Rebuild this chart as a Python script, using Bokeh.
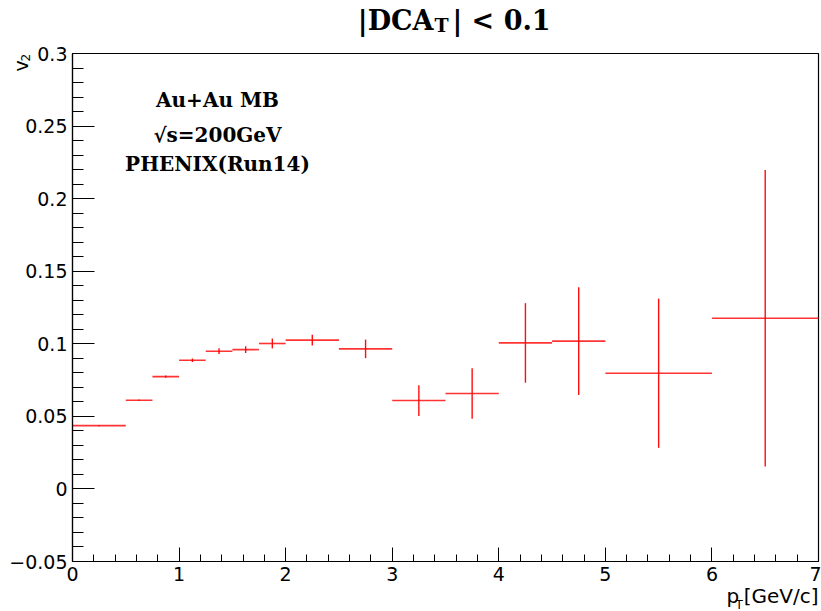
from bokeh.plotting import figure
from bokeh.models import FixedTicker, Label, Range1d, ColumnDataSource, LinearAxis
from bokeh.embed import file_html
from bokeh.resources import INLINE
import numpy as np

# ---------------- data ----------------
bin_lo = [0.0, 0.5, 0.75, 1.0, 1.25, 1.5, 1.75, 2.0, 2.5, 3.0, 3.5, 4.0, 4.5, 5.0, 6.0]
bin_hi = [0.5, 0.75, 1.0, 1.25, 1.5, 1.75, 2.0, 2.5, 3.0, 3.5, 4.0, 4.5, 5.0, 6.0, 7.0]
v2 = [0.0436, 0.0611, 0.0774, 0.0887, 0.0949, 0.0960, 0.1002, 0.1025, 0.0965,
      0.0609, 0.0657, 0.1006, 0.1018, 0.0797, 0.1176]
v2_err = [0.0005, 0.0006, 0.0008, 0.0012, 0.0020, 0.0023, 0.0034, 0.0037, 0.0064,
          0.0106, 0.0174, 0.0274, 0.0371, 0.0514, 0.1022]

x_ticks = [0, 1, 2, 3, 4, 5, 6, 7]
x_tick_labels = ["0", "1", "2", "3", "4", "5", "6", "7"]
y_ticks = [-0.05, 0.0, 0.05, 0.1, 0.15, 0.2, 0.25, 0.3]
y_tick_labels = ["\u22120.05", "0", "0.05", "0.1", "0.15", "0.2", "0.25", "0.3"]

title_main = "|DCA"
title_sub = "T"
title_tail = "| < 0.1"
info_lines = ["Au+Au MB", "\u221as=200GeV", "PHENIX(Run14)"]

# ---------------- layout ----------------
W, H = 821, 611
FL, FR, FT, FB = 72, 818, 53, 561          # pixel box of the data area
X0, X1 = 0.0, 7.0
Y0, Y1 = -0.05, 0.3


def dx(px):
    return X0 + (px - FL) / (FR - FL) * (X1 - X0)


def dy(py):
    return Y0 + (FB - py) / (FB - FT) * (Y1 - Y0)


p = figure(width=W, height=H, output_backend="svg", toolbar_location=None,
           title=None, x_axis_location=None, y_axis_location=None,
           x_range=Range1d(dx(0), dx(W)), y_range=Range1d(dy(H), dy(0)),
           min_border_left=0, min_border_right=0,
           min_border_top=0, min_border_bottom=0)
p.background_fill_color = "white"
p.border_fill_color = "white"
p.outline_line_color = None
p.xgrid.visible = False
p.ygrid.visible = False

sans = "DejaVu Sans"
serif = "DejaVu Serif"

# x axis (fixed at the bottom of the data box)
xa = LinearAxis(fixed_location=Y0, bounds=(X0, X1))
xa.ticker = FixedTicker(ticks=x_ticks, minor_ticks=list(np.arange(0, 7.0001, 0.2)))
xa.major_label_overrides = {t: l for t, l in zip(x_ticks, x_tick_labels)}
xa.major_tick_in = 14
xa.major_tick_out = 0
xa.minor_tick_in = 7
xa.minor_tick_out = 0
xa.major_label_standoff = 5
xa.major_label_text_font = sans
xa.major_label_text_font_size = "19px"
xa.major_label_text_color = "black"
xa.axis_line_color = "black"
xa.axis_line_width = 1.2
xa.major_tick_line_color = "black"
xa.minor_tick_line_color = "black"
p.add_layout(xa, "below")

# y axis (fixed at the left of the data box)
ya = LinearAxis(fixed_location=X0, bounds=(Y0, Y1))
ya.ticker = FixedTicker(ticks=y_ticks, minor_ticks=list(np.arange(-0.05, 0.3001, 0.01)))
ya.major_label_overrides = {t: l for t, l in zip(y_ticks, y_tick_labels)}
ya.major_tick_in = 22
ya.major_tick_out = 0
ya.minor_tick_in = 11
ya.minor_tick_out = 0
ya.major_label_standoff = 5
ya.major_label_text_font = sans
ya.major_label_text_font_size = "19px"
ya.major_label_text_color = "black"
ya.axis_line_color = "black"
ya.axis_line_width = 1.2
ya.major_tick_line_color = "black"
ya.minor_tick_line_color = "black"
p.add_layout(ya, "left")

# frame box
p.quad(left=[X0], right=[X1], bottom=[Y0], top=[Y1], fill_color=None,
       line_color="black", line_width=1.2)

# ---------------- data marks ----------------
centers = [(a + b) / 2 for a, b in zip(bin_lo, bin_hi)]
src = ColumnDataSource(dict(
    lo=bin_lo, hi=bin_hi, x=centers, y=v2,
    ylo=[v - e for v, e in zip(v2, v2_err)],
    yhi=[v + e for v, e in zip(v2, v2_err)],
))
p.segment(x0="lo", x1="hi", y0="y", y1="y", source=src,
          line_color="#ff0000", line_width=1.6, line_alpha=0.8)
p.segment(x0="x", x1="x", y0="ylo", y1="yhi", source=src,
          line_color="#ff0000", line_width=1.4, line_alpha=0.95)


# ---------------- texts ----------------
K = 0.38  # empirical baseline correction (fraction of font size)


def add_label(text, px, py, font, size, style="normal", align="left", angle=0.0):
    if angle == 0.0:
        py = py - K * size
    p.add_layout(Label(x=dx(px), y=dy(py), text=text, text_font=font,
                       text_font_size=f"{size}px", text_font_style=style,
                       text_align=align, text_baseline="alphabetic",
                       text_color="black", angle=angle))


# title
add_label(title_main, 433, 30, serif, 27, "bold", "right")
add_label(title_sub, 434, 32, serif, 19, "bold", "left")
add_label(title_tail, 501, 30, serif, 27, "bold", "center")

# info box
for line, by in zip(info_lines, [107, 142, 171]):
    add_label(line, 217, by, serif, 20, "bold", "center")

# x axis title
add_label("p", 726, 603, sans, 20)
add_label("T", 735, 609, sans, 12)
add_label("[GeV/c]", 818, 603, sans, 20, align="right")

# y axis title (rotated)
add_label("v", 20, 71, sans, 19, angle=np.pi / 2)
add_label("2", 25, 61, sans, 12, angle=np.pi / 2)

open("out.html", "w").write(file_html(p, INLINE))
